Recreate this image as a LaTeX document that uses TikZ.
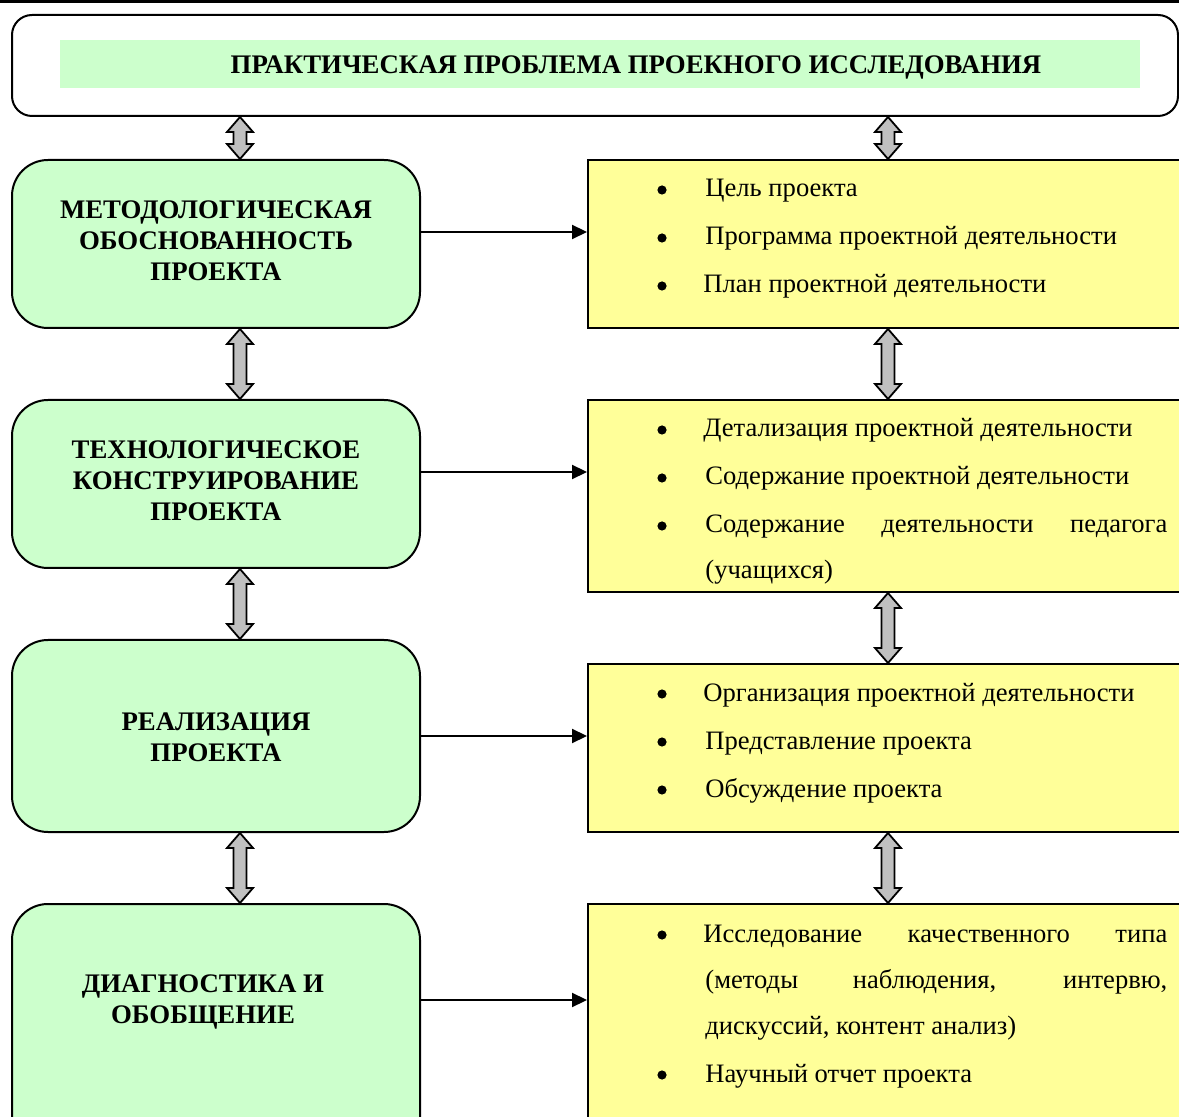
\documentclass[tikz,border=0pt]{standalone}
\usepackage{fontspec}
\setmainfont{Liberation Serif}
\usetikzlibrary{fit,calc,arrows.meta}
\definecolor{lgreen}{HTML}{CCFFCC}
\definecolor{lyellow}{HTML}{FFFF99}
\definecolor{dagray}{HTML}{C0C0C0}
\newcommand{\dblarr}[2]{%
  \draw[dbl] (#1) -- ++(13,15) -- ++(-6.5,0) -- ($(#2)+(6.5,-15)$) -- ++(6.5,0) -- (#2)
    -- ++(-13,-15) -- ++(6.5,0) -- ($(#1)+(-6.5,15)$) -- ++(-6.5,0) -- cycle;}
\begin{document}
\begin{tikzpicture}[x=0.5pt,y=-0.5pt,
  topbox/.style={draw=black,line width=1pt,fill=white,rounded corners=10pt,inner sep=0pt},
  banner/.style={fill=lgreen,inner sep=0pt},
  lbox/.style={draw=black,line width=1pt,fill=lgreen,rounded corners=18pt,inner sep=0pt},
  rbox/.style={draw=black,line width=1pt,fill=lyellow,inner sep=0pt},
  ltext/.style={align=center,inner sep=0pt,font=\fontsize{13.4}{15.5}\selectfont\bfseries},
  btext/.style={inner sep=0pt,font=\fontsize{13.4}{15.5}\selectfont\bfseries},
  itext/.style={anchor=base west,inner sep=0pt,font=\fontsize{13.3}{24}\selectfont},
  bul/.style={circle,fill=black,inner sep=0pt,minimum size=4.6pt},
  harrow/.style={line width=1.1pt,-{Triangle[length=7.5pt,width=7pt]}},
  dbl/.style={draw=black,line width=0.9pt,fill=dagray,line join=miter}]
\clip (0,0) rectangle (1179,1117);
\fill[black] (0,0) rectangle (1179,3);
% top
\node[topbox,fit={(12,15)(1178,116)}] (top) {};
\node[banner,fit={(60,40)(1140,88)}] (ban) {};
\node[btext,anchor=base] (bant) at (636,74) {ПРАКТИЧЕСКАЯ ПРОБЛЕМА ПРОЕКНОГО ИССЛЕДОВАНИЯ};
% left boxes
\node[lbox,fit={(12,160)(420,328)}] (l1) {};
\node[lbox,fit={(12,400)(420,568)}] (l2) {};
\node[lbox,fit={(12,640)(420,832)}] (l3) {};
\node[lbox,fit={(12,904)(420,1160)}] (l4) {};
% right boxes
\node[rbox,fit={(588,160)(1200,328)}] (r1) {};
\node[rbox,fit={(588,400)(1200,592)}] (r2) {};
\node[rbox,fit={(588,664)(1200,832)}] (r3) {};
\node[rbox,fit={(588,904)(1200,1160)}] (r4) {};
% left texts
\node[ltext] (lt1) at (216,241) {МЕТОДОЛОГИЧЕСКАЯ\\ОБОСНОВАННОСТЬ\\ПРОЕКТА};
\node[ltext] (lt2) at (216,481) {ТЕХНОЛОГИЧЕСКОЕ\\КОНСТРУИРОВАНИЕ\\ПРОЕКТА};
\node[ltext] (lt3) at (216,737) {РЕАЛИЗАЦИЯ\\ПРОЕКТА};
\node[ltext] (lt4) at (203,1002) {ДИАГНОСТИКА И\\ОБОБЩЕНИЕ};
% right texts
\node[bul] (u11) at (662,190) {};
\node[itext] (c11) at (705,197) {Цель проекта};
\node[bul] (u12) at (662,238) {};
\node[itext] (c12) at (705,245) {Программа проектной деятельности};
\node[bul] (u13) at (662,286) {};
\node[itext] (c13) at (703,293) {План проектной деятельности};
\node[bul] (u21) at (662,430) {};
\node[itext] (c21) at (703,437) {Детализация проектной деятельности};
\node[bul] (u22) at (662,478) {};
\node[itext] (c22) at (705,485) {Содержание проектной деятельности};
\node[bul] (u23) at (662,526) {};
\node[itext] (c23) at (705,533) {\makebox[231pt][s]{Содержание деятельности педагога}};
\node[itext] (c24) at (705,579) {(учащихся)};
\node[bul] (u31) at (662,694) {};
\node[itext] (c31) at (703,701) {Организация проектной деятельности};
\node[bul] (u32) at (662,742) {};
\node[itext] (c32) at (705,749) {Представление проекта};
\node[bul] (u33) at (662,790) {};
\node[itext] (c33) at (705,797) {Обсуждение проекта};
\node[bul] (u41) at (662,935) {};
\node[itext] (c41) at (703,942) {\makebox[232pt][s]{Исследование качественного типа}};
\node[itext] (c42) at (705,988) {\makebox[231pt][s]{(методы наблюдения, интервю,}};
\node[itext] (c43) at (705,1034) {дискуссий, контент анализ)};
\node[bul] (u44) at (662,1075) {};
\node[itext] (c44) at (705,1082) {Научный отчет проекта};
% horizontal arrows
\coordinate (h1) at (0,232);
\coordinate (h2) at (0,472);
\coordinate (h3) at (0,736);
\coordinate (h4) at (0,1000);
\draw[harrow] (l1.east |- h1) -- (r1.west |- h1);
\draw[harrow] (l2.east |- h2) -- (r2.west |- h2);
\draw[harrow] (l3.east |- h3) -- (r3.west |- h3);
\draw[harrow] (l4.east |- h4) -- (r4.west |- h4);
% double arrows
\coordinate (xl) at (240,0);
\coordinate (xr) at (888,0);
\dblarr{top.south -| xl}{l1.north -| xl}
\dblarr{l1.south -| xl}{l2.north -| xl}
\dblarr{l2.south -| xl}{l3.north -| xl}
\dblarr{l3.south -| xl}{l4.north -| xl}
\dblarr{top.south -| xr}{r1.north -| xr}
\dblarr{r1.south -| xr}{r2.north -| xr}
\dblarr{r2.south -| xr}{r3.north -| xr}
\dblarr{r3.south -| xr}{r4.north -| xr}
\end{tikzpicture}
\end{document}
